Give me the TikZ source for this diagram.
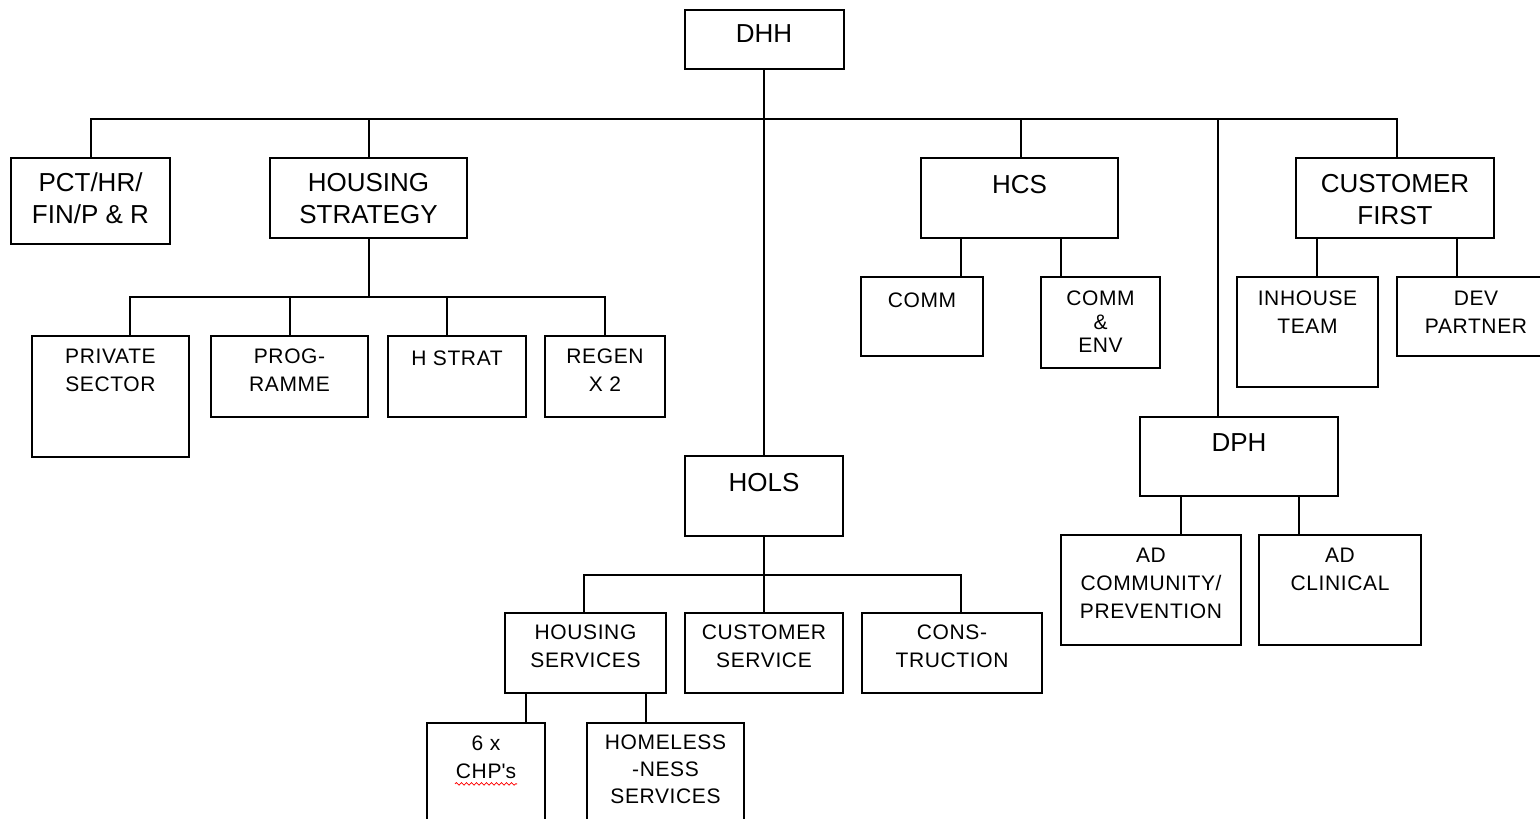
\documentclass[tikz,border=0pt]{standalone}
\usepackage{fontspec}
\setmainfont{Liberation Sans}
\usetikzlibrary{positioning,decorations.pathmorphing}

\begin{document}
\begin{tikzpicture}[x=1pt, y=-1pt, line width=2pt,
    box/.style={draw, rectangle, inner sep=0pt, outer sep=0pt},
    bigtxt/.style={font=\fontsize{26}{32}\selectfont, align=center, inner sep=0pt},
    smalltxt/.style={font=\fontsize{21}{28}\selectfont\addfontfeatures{LetterSpace=3}, align=center, inner sep=0pt}]
    \useasboundingbox (0,0) rectangle (1540,819);

    \node[box, minimum width=159pt, minimum height=59pt] (dhh) at (764,39.5) {};
    \node[box, minimum width=159pt, minimum height=86pt] (pct) at (90.5,201) {};
    \node[box, minimum width=197pt, minimum height=80pt] (hstrat) at (368.5,198) {};
    \node[box, minimum width=197pt, minimum height=80pt] (hcs) at (1019.5,198) {};
    \node[box, minimum width=198pt, minimum height=80pt] (cf) at (1395,198) {};
    \node[box, minimum width=158pt, minimum height=80pt] (hols) at (764,496) {};
    \node[box, minimum width=198pt, minimum height=79pt] (dph) at (1239,456.5) {};

    \node[box, minimum width=157pt, minimum height=121pt] (priv) at (110.5,396.5) {};
    \node[box, minimum width=157pt, minimum height=81pt] (prog) at (289.5,376.5) {};
    \node[box, minimum width=138pt, minimum height=81pt] (hstr) at (457,376.5) {};
    \node[box, minimum width=120pt, minimum height=81pt] (regen) at (605,376.5) {};

    \node[box, minimum width=122pt, minimum height=79pt] (comm) at (922,316.5) {};
    \node[box, minimum width=119pt, minimum height=91pt] (commenv) at (1100.5,322.5) {};
    \node[box, minimum width=141pt, minimum height=110pt] (inhouse) at (1307.5,332) {};
    \node[box, minimum width=158pt, minimum height=79pt] (dev) at (1476,316.5) {};

    \node[box, minimum width=161pt, minimum height=80pt] (hsvc) at (585.5,653) {};
    \node[box, minimum width=158pt, minimum height=80pt] (csvc) at (764,653) {};
    \node[box, minimum width=180pt, minimum height=80pt] (cons) at (952,653) {};
    \node[box, minimum width=180pt, minimum height=110pt] (adc) at (1151,590) {};
    \node[box, minimum width=162pt, minimum height=110pt] (adcl) at (1340,590) {};
    \node[box, minimum width=118pt, minimum height=117pt] (chp) at (486,781.5) {};
    \node[box, minimum width=157pt, minimum height=117pt] (homeless) at (665.5,781.5) {};

    \node[bigtxt, below=14pt of dhh.north] {DHH};
    \node[bigtxt, below=14pt of pct.north] {PCT/HR/\\FIN/P \& R};
    \node[bigtxt, below=14pt of hstrat.north] {HOUSING\\STRATEGY};
    \node[bigtxt, below=16pt of hcs.north] {HCS};
    \node[bigtxt, below=15pt of cf.north] {CUSTOMER\\FIRST};
    \node[bigtxt, below=16pt of hols.north] {HOLS};
    \node[bigtxt, below=16pt of dph.north] {DPH};

    \node[smalltxt, below=12pt of priv.north] {PRIVATE\\SECTOR};
    \node[smalltxt, below=12pt of prog.north] {PROG-\\RAMME};
    \node[smalltxt, below=14pt of hstr.north] {H STRAT};
    \node[smalltxt, below=12pt of regen.north] {REGEN\\X 2};
    \node[smalltxt, below=15pt of comm.north] {COMM};
    \node[smalltxt, font=\fontsize{21}{23.5}\selectfont\addfontfeatures{LetterSpace=3}, below=13pt of commenv.north] {COMM\\\&\\ENV};
    \node[smalltxt, below=13pt of inhouse.north] {INHOUSE\\TEAM};
    \node[smalltxt, below=13pt of dev.north] {DEV\\PARTNER};
    \node[smalltxt, below=11pt of hsvc.north] {HOUSING\\SERVICES};
    \node[smalltxt, below=11pt of csvc.north] {CUSTOMER\\SERVICE};
    \node[smalltxt, below=11pt of cons.north] {CONS-\\TRUCTION};
    \node[smalltxt, below=12pt of adc.north] {AD\\COMMUNITY/\\PREVENTION};
    \node[smalltxt, below=12pt of adcl.north] {AD\\CLINICAL};
    \node[smalltxt, below=12pt of chp.north] (chptxt) {6 x\\CHP\textquotesingle s};
    \node[smalltxt, font=\fontsize{21}{27}\selectfont\addfontfeatures{LetterSpace=3}, below=11pt of homeless.north] {HOMELESS\\-NESS\\SERVICES};

    \draw[red, line width=0.8pt, decorate, decoration={snake, amplitude=1.3pt, segment length=5pt}]
        ([yshift=-4pt]chptxt.south west) -- ([yshift=-4pt]chptxt.south east);

    \path (dhh.south) ++(0,50) coordinate (dhhbus);
    \draw (dhh.south) -- (dhh.south |- hols.north);
    \draw (pct.north) |- (dhhbus) -| ([xshift=2pt]cf.north);
    \draw (hstrat.north) -- (hstrat.north |- dhhbus);
    \draw ([xshift=1.5pt]hcs.north) |- (dhhbus);
    \draw ([xshift=-21pt]dph.north) |- (dhhbus);

    \path (hstrat.south) ++(0,59) coordinate (hsbus);
    \draw (hstrat.south) -- (hsbus);
    \draw ([xshift=19.5pt]priv.north) |- (hsbus) -| (regen.north);
    \draw (prog.north) |- (hsbus);
    \draw ([xshift=-10pt]hstr.north) |- (hsbus);

    \draw ([xshift=38.5pt]comm.north) |- (hcs.south);
    \draw ([xshift=-40pt]commenv.north) |- (hcs.south);
    \draw ([xshift=9.5pt]inhouse.north) |- (cf.south);
    \draw ([xshift=-19pt]dev.north) |- (cf.south);
    \draw ([xshift=29.5pt]adc.north) |- (dph.south);
    \draw ([xshift=-41pt]adcl.north) |- (dph.south);

    \path (hols.south) ++(0,39) coordinate (holsbus);
    \draw (hols.south) -- (csvc.north);
    \draw ([xshift=-1.5pt]hsvc.north) |- (holsbus) -| ([xshift=9pt]cons.north);
    \draw ([xshift=40pt]chp.north) |- (hsvc.south);
    \draw ([xshift=-19.5pt]homeless.north) |- (hsvc.south);
\end{tikzpicture}
\end{document}
